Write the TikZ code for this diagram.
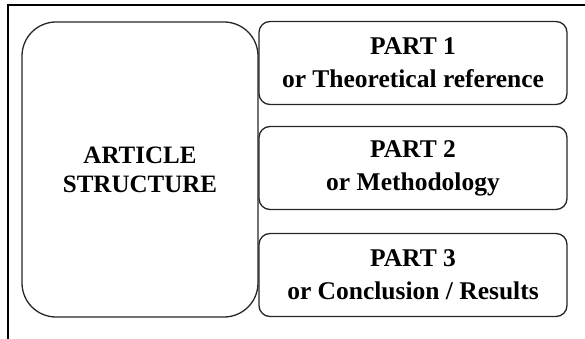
\documentclass[tikz,border=0pt]{standalone}
\usepackage{fontspec}
\setmainfont{Liberation Serif}
\usepackage{tikz}
\usetikzlibrary{positioning}

\begin{document}
\begin{tikzpicture}[
  x=1pt, y=-1pt,
  mainbox/.style={draw=black!85, line width=1.3pt, rounded corners=34pt, minimum width=236pt, minimum height=295pt, align=center, font=\fontsize{25}{29}\selectfont\bfseries, inner sep=0pt},
  partbox/.style={draw=black!85, line width=1.3pt, rounded corners=11pt, minimum width=308pt, minimum height=83pt, align=center, font=\fontsize{25.5}{33}\selectfont\bfseries, inner sep=0pt},
  frame/.style={line width=2pt, black},
]
\useasboundingbox (0,0) rectangle (585,339);

% outer frame (only top and left edge visible)
\draw[frame] (585,5) -- (8,5) -- (8,339);

\node[mainbox] (article) at (140,169.5) {ARTICLE\\STRUCTURE};
\node[partbox] (part1) at (413,63) {PART 1\\or Theoretical reference};
\node[partbox] (part2) at (413,168) {PART 2\\or Methodology};
\node[partbox] (part3) at (413,275) {PART 3\\or Conclusion / Results};
\end{tikzpicture}
\end{document}
